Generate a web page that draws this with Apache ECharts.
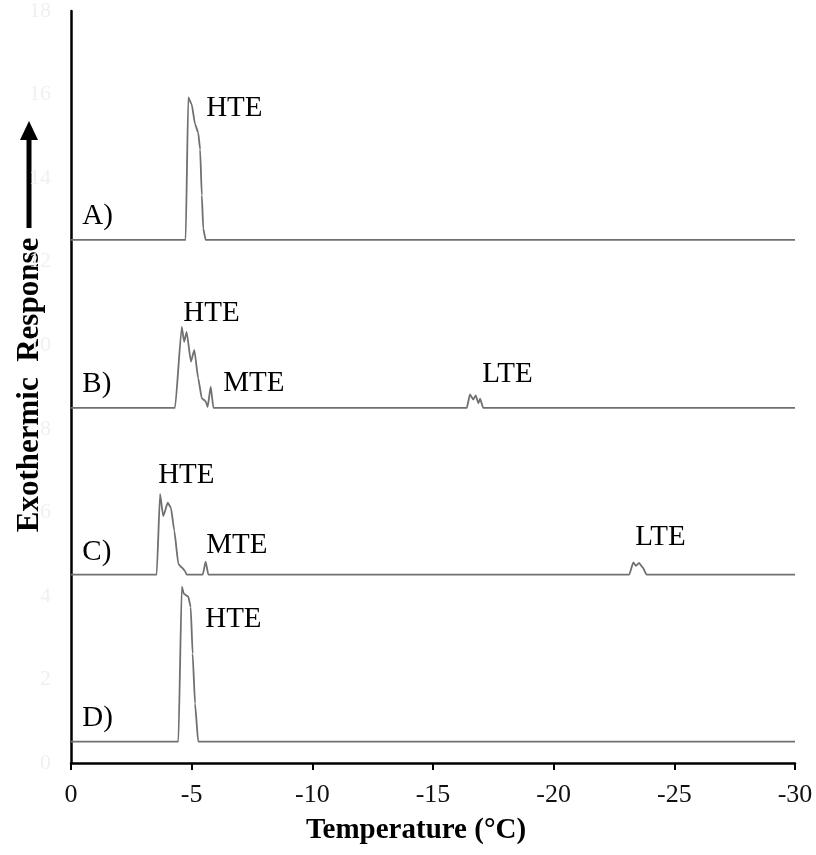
<!DOCTYPE html>
<html>
<head>
<meta charset="utf-8">
<title>Exothermic response vs temperature</title>
<script src="https://cdn.jsdelivr.net/npm/echarts@6/dist/echarts.min.js"></script>
<style>
  html, body { margin: 0; padding: 0; background: #ffffff; }
  #chart { width: 816px; height: 855px; }
</style>
</head>
<body>
<div id="chart"></div>
<script>
// Thermal scans, offset vertically: temperature (°C) and response for each trace
const tempA = [0, -4.75, -4.86, -5.00, -5.14, -5.27, -5.35, -5.42, -5.48, -5.58, -30];
const respA = [12.52, 12.52, 15.93, 15.77, 15.29, 15.09, 14.69, 13.59, 12.79, 12.52, 12.52];

const tempB = [0, -4.31, -4.59, -4.69, -4.79, -4.97, -5.11, -5.27, -5.42, -5.58, -5.66, -5.79, -5.90,
               -16.40, -16.53, -16.67, -16.77, -16.88, -16.95, -17.08, -30];
const respB = [8.50, 8.50, 10.44, 10.08, 10.32, 9.61, 9.89, 9.21, 8.73, 8.66, 8.52, 9.01, 8.50,
               8.50, 8.82, 8.70, 8.80, 8.61, 8.72, 8.50, 8.50];

const tempC = [0, -3.55, -3.69, -3.82, -4.01, -4.14, -4.28, -4.45, -4.59, -4.72, -4.79,
               -5.46, -5.58, -5.69, -23.13, -23.30, -23.41, -23.54, -23.69, -23.85, -30];
const respC = [4.51, 4.51, 6.44, 5.91, 6.23, 6.11, 5.56, 4.76, 4.68, 4.60, 4.51,
               4.51, 4.82, 4.51, 4.51, 4.80, 4.72, 4.79, 4.68, 4.51, 4.51];

const tempD = [0, -4.45, -4.59, -4.68, -4.86, -4.96, -5.04, -5.14, -5.27, -30];
const respD = [0.51, 0.51, 4.22, 4.05, 3.98, 3.73, 2.62, 1.42, 0.51, 0.51];

// Annotations: text, temperature of the text's left edge, response at its centre
const noteText = ['A)', 'HTE', 'B)', 'HTE', 'MTE', 'LTE', 'C)', 'HTE', 'MTE', 'LTE', 'D)', 'HTE'];
const noteTemp = [-0.46, -5.59, -0.46, -4.64, -6.30, -17.03, -0.46, -3.60, -5.59, -23.37, -0.46, -5.55];
const noteResp = [13.09, 15.67, 9.06, 10.75, 9.09, 9.30, 5.05, 6.89, 5.20, 5.39, 1.07, 3.43];

const xTicks = { min: -30, max: 0, interval: 5 };
const yTicks = { min: 0, max: 18, interval: 2 };

const serif = '"Liberation Serif", "Times New Roman", serif';
const traceColor = '#707070';

function pairs(t, r) { return t.map((v, i) => [v, r[i]]); }

function trace(name, t, r) {
  return {
    name: name,
    type: 'line',
    data: pairs(t, r),
    showSymbol: false,
    smooth: 0.15,
    smoothMonotone: 'x',
    lineStyle: { color: traceColor, width: 1.8 },
    silent: true,
    animation: false
  };
}

const chart = echarts.init(document.getElementById('chart'), null, { renderer: 'canvas' });

chart.setOption({
  backgroundColor: '#ffffff',
  animation: false,
  grid: { left: 71, right: 21, top: 8, bottom: 92 },
  xAxis: {
    type: 'value',
    min: xTicks.min,
    max: xTicks.max,
    interval: xTicks.interval,
    inverse: true,
    axisLine: { lineStyle: { color: '#000000', width: 2.5 } },
    axisTick: { show: true, length: 7, lineStyle: { color: '#000000', width: 2 } },
    axisLabel: { color: '#111111', fontFamily: serif, fontSize: 26, margin: 19 },
    splitLine: { show: false }
  },
  yAxis: {
    type: 'value',
    min: yTicks.min,
    max: yTicks.max,
    interval: yTicks.interval,
    axisLine: { show: true, lineStyle: { color: '#000000', width: 2.5 } },
    axisTick: { show: false },
    axisLabel: { color: '#f0f0f0', fontFamily: serif, fontSize: 22, margin: 20 },
    splitLine: { show: false }
  },
  series: [
    trace('A', tempA, respA),
    trace('B', tempB, respB),
    trace('C', tempC, respC),
    trace('D', tempD, respD),
    {
      // Text annotations anchored at data coordinates
      name: 'notes',
      type: 'scatter',
      data: noteText.map((s, i) => ({ name: s, value: [noteTemp[i], noteResp[i]] })),
      symbolSize: 0.5,
      itemStyle: { color: '#ffffff', opacity: 1 },
      label: {
        show: true,
        position: 'right',
        distance: 0,
        formatter: p => p.name,
        color: '#000000',
        fontFamily: serif,
        fontSize: 29
      },
      silent: true,
      animation: false
    }
  ],
  graphic: [
    {
      type: 'text',
      x: 30, y: 385,
      rotation: Math.PI / 2,
      style: {
        text: 'Exothermic  Response',
        font: 'bold 31px ' + serif,
        fill: '#000000',
        align: 'center',
        verticalAlign: 'middle'
      }
    },
    {
      type: 'line',
      shape: { x1: 29, y1: 228, x2: 29, y2: 138 },
      style: { stroke: '#000000', lineWidth: 5 }
    },
    {
      type: 'polygon',
      shape: { points: [[20, 140], [38, 140], [29, 121]] },
      style: { fill: '#000000' }
    },
    {
      type: 'text',
      x: 416, y: 831,
      style: {
        text: 'Temperature (°C)',
        font: 'bold 29px ' + serif,
        fill: '#000000',
        align: 'center',
        verticalAlign: 'middle'
      }
    }
  ]
});
</script>
</body>
</html>
